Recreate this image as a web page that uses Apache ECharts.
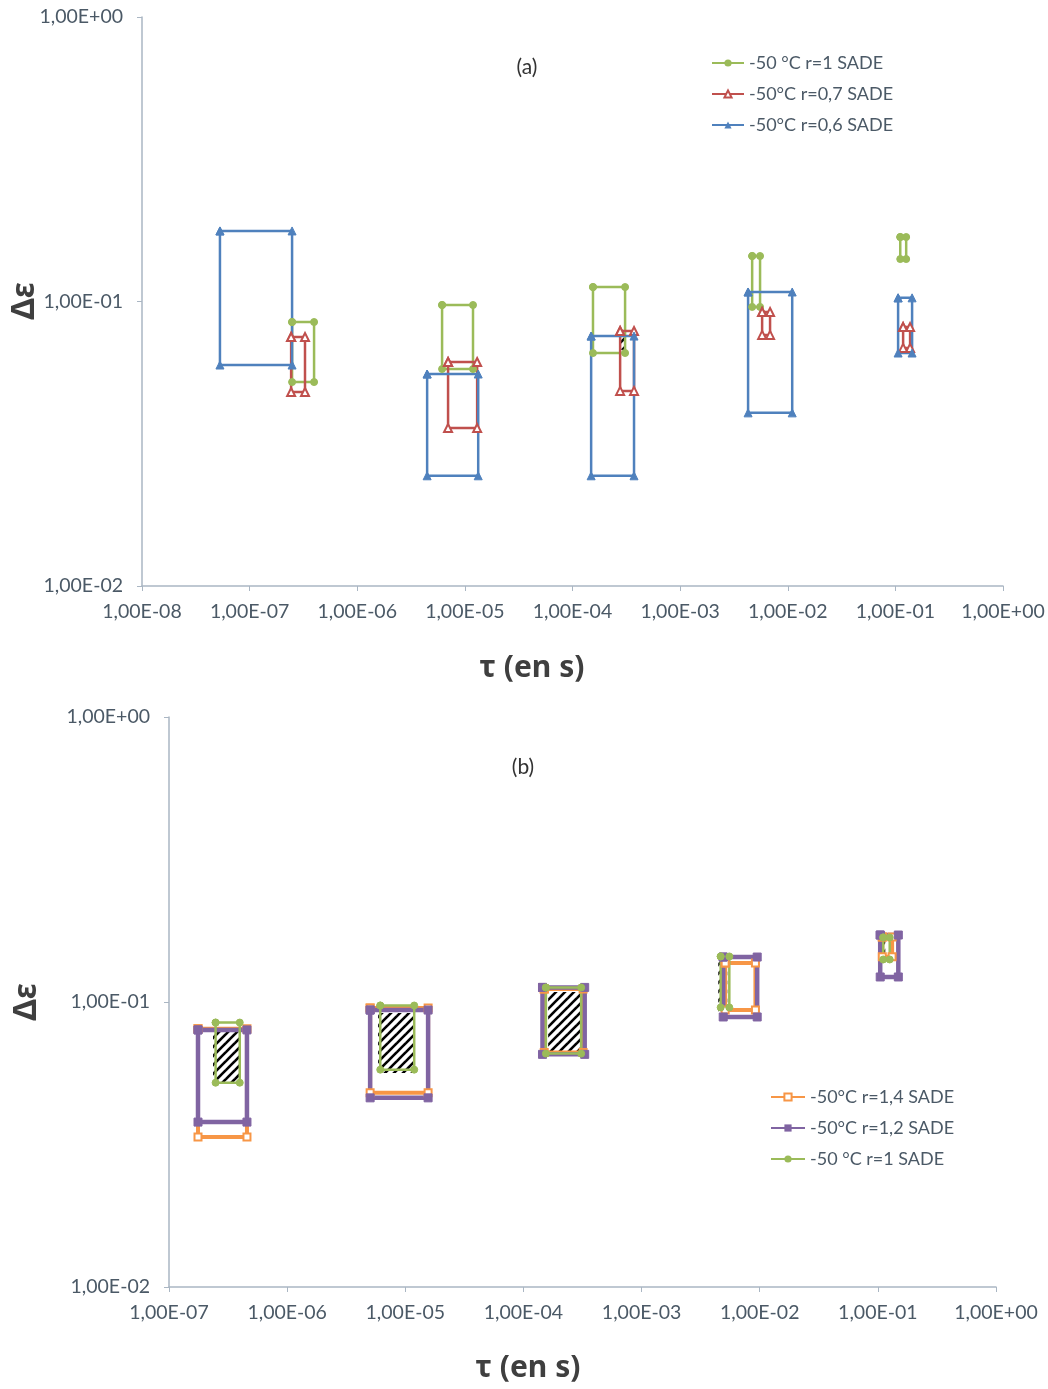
<!DOCTYPE html>
<html>
<head>
<meta charset="utf-8">
<script src="https://cdn.jsdelivr.net/npm/echarts@6/dist/echarts.min.js"></script>
<style>
html,body{margin:0;padding:0;background:#fff;}
#c{width:1048px;height:1389px;}
</style>
</head>
<body>
<div id="c"></div>
<script>
// ---------- DATA (rectangles: [tauMin, tauMax, deltaEpsTop, deltaEpsBottom]) ----------
const nameR1   = '-50 °C r=1 SADE';
const nameR07  = '-50°C r=0,7 SADE';
const nameR06  = '-50°C r=0,6 SADE';
const nameR14  = '-50°C r=1,4 SADE';
const nameR12  = '-50°C r=1,2 SADE';

const rectsR1 = [
  [2.48e-7, 3.97e-7, 0.0847, 0.0521],
  [6.14e-6, 1.19e-5, 0.0972, 0.0579],
  [1.55e-4, 3.08e-4, 0.1124, 0.0659],
  [4.67e-3, 5.53e-3, 0.1445, 0.0957],
  [0.111,   0.126,   0.1685, 0.141]
];
const rectsR07 = [
  [2.43e-7, 3.27e-7, 0.0750, 0.0481],
  [6.98e-6, 1.30e-5, 0.0613, 0.0359],
  [2.77e-4, 3.73e-4, 0.0788, 0.0485],
  [5.78e-3, 6.85e-3, 0.0918, 0.0763],
  [0.118,   0.137,   0.0813, 0.0687]
];
const rectsR06 = [
  [5.3e-8,  2.48e-7, 0.177,  0.0598],
  [4.46e-6, 1.33e-5, 0.0556, 0.0244],
  [1.49e-4, 3.73e-4, 0.0756, 0.0244],
  [4.28e-3, 1.10e-2, 0.108,  0.0406],
  [0.106,   0.143,   0.103,  0.0659]
];
const rectsR14 = [
  [1.76e-7, 4.57e-7, 0.0805, 0.0336],
  [5.04e-6, 1.56e-5, 0.0953, 0.0480],
  [1.50e-4, 3.20e-4, 0.111,  0.0665],
  [5.10e-3, 9.20e-3, 0.137,  0.0937],
  [0.109,   0.132,   0.169,  0.144]
];
const rectsR12 = [
  [1.76e-7, 4.57e-7, 0.0798, 0.0379],
  [5.04e-6, 1.56e-5, 0.0937, 0.0461],
  [1.45e-4, 3.30e-4, 0.1125, 0.0655],
  [4.91e-3, 9.52e-3, 0.1438, 0.0886],
  [0.1047,  0.149,   0.1718, 0.1224]
];
const hatchA = [
  [2.77e-4, 3.08e-4, 0.0775, 0.0676]
];
const hatchB = [
  [2.36e-7, 3.99e-7, 0.0798, 0.0524],
  [5.89e-6, 1.19e-5, 0.0915, 0.0563],
  [1.62e-4, 3.02e-4, 0.1084, 0.0668],
  [4.46e-3, 5.31e-3, 0.146,  0.0915],
  [0.1007,  0.1156,  0.171,  0.137]
];
const xRangeA = [1e-8, 1];
const xRangeB = [1e-7, 1];
const yRange  = [1e-2, 1];
const panelLabels = ['(a)', '(b)'];
const yTitle = 'Δε';
const xTitle = 'τ (en s)';

// ---------- helpers ----------
function sci(v){
  const e = Math.round(Math.log10(v));
  const a = Math.abs(e);
  return '1,00E' + (e < 0 ? '-' : '+') + (a < 10 ? '0' : '') + a;
}
function rectSeries(name, rects, idx, color, symbol, symbolSize, lineWidth){
  return rects.map(r => ({
    type: 'line', name: name, xAxisIndex: idx, yAxisIndex: idx,
    data: [[r[0], r[2]], [r[1], r[2]], [r[1], r[3]], [r[0], r[3]], [r[0], r[2]]],
    symbol: symbol, symbolSize: symbolSize, showSymbol: true,
    lineStyle: {color: color, width: lineWidth},
    itemStyle: {color: color, borderColor: color},
    animation: false, silent: true
  }));
}
const pc = document.createElement('canvas');
pc.width = 9; pc.height = 9;
(function(){
  const g = pc.getContext('2d');
  g.fillStyle = '#fff'; g.fillRect(0,0,9,9);
  g.strokeStyle = '#000'; g.lineWidth = 2.6;
  [[-9,0],[0,0],[9,0]].forEach(o => {
    g.beginPath(); g.moveTo(o[0]-1, 10); g.lineTo(o[0]+10, -1); g.stroke();
  });
})();
function hatchSeries(rects, idx){
  return {
    type: 'custom', xAxisIndex: idx, yAxisIndex: idx, silent: true, animation: false, z: 3,
    data: rects,
    encode: {x: [0,1], y: [2,3]},
    renderItem: function(params, api){
      const p1 = api.coord([api.value(0), api.value(2)]);
      const p2 = api.coord([api.value(1), api.value(3)]);
      return {type: 'rect', shape: {x: p1[0], y: p1[1], width: p2[0]-p1[0], height: p2[1]-p1[1]},
              style: {fill: {image: pc, repeat: 'repeat'}}};
    }
  };
}
const axisColor = '#aab6c3';
const labelColor = '#4b5966';
const font = 'Lato, "Open Sans", sans-serif';
function xAxis(idx, range){
  return {
    type: 'log', logBase: 10, gridIndex: idx, min: range[0], max: range[1], interval: 1,
    axisLine: {show: true, onZero: false, lineStyle: {color: axisColor, width: 1.5}},
    axisTick: {show: true, inside: false, length: 5, lineStyle: {color: axisColor}},
    axisLabel: {color: labelColor, fontSize: 19.5, fontFamily: font, margin: 16, formatter: sci, showMinLabel: true, showMaxLabel: true},
    splitLine: {show: false}, minorTick: {show: false}
  };
}
function yAxis(idx){
  return {
    type: 'log', logBase: 10, gridIndex: idx, min: yRange[0], max: yRange[1], interval: 1,
    axisLine: {show: true, onZero: false, lineStyle: {color: axisColor, width: 1.5}},
    axisTick: {show: true, inside: false, length: 5, lineStyle: {color: axisColor}},
    axisLabel: {color: labelColor, fontSize: 19.5, fontFamily: font, margin: 19, formatter: sci, showMinLabel: true, showMaxLabel: true},
    splitLine: {show: false}, minorTick: {show: false}
  };
}
const green = '#9bbb59', red = '#c0504d', blue = '#4f81bd', orange = '#f79646', purple = '#8064a2';

const series = [].concat(
  rectSeries(nameR1,  rectsR1,  0, green, 'circle', 7, 2.5),
  rectSeries(nameR07, rectsR07, 0, red,   'emptyTriangle', 8, 2.5),
  rectSeries(nameR06, rectsR06, 0, blue,  'triangle', 8, 2.5),
  [hatchSeries(hatchA, 0)],
  rectSeries(nameR14, rectsR14, 1, orange, 'emptyRect', 7, 4),
  rectSeries(nameR12, rectsR12, 1, purple, 'rect', 8, 4.5),
  rectSeries(nameR1,  rectsR1,  1, green, 'circle', 7, 2.5),
  [hatchSeries(hatchB, 1)]
);

const titleStyle = {font: 'bold 32px "Noto Sans", "Open Sans", sans-serif', fill: '#3f3f3f', textAlign: 'center', textVerticalAlign: 'middle'};
const option = {
  backgroundColor: '#fff',
  animation: false,
  grid: [
    {left: 142, top: 17, width: 861, height: 569},
    {left: 169, top: 717, width: 827, height: 570}
  ],
  xAxis: [xAxis(0, xRangeA), xAxis(1, xRangeB)],
  yAxis: [yAxis(0), yAxis(1)],
  legend: [
    {data: [nameR1, nameR07, nameR06], orient: 'vertical', left: 706, top: 49, itemWidth: 32, itemHeight: 9, itemGap: 13,
     textStyle: {color: labelColor, fontSize: 18, fontFamily: font}, selectedMode: false},
    {data: [nameR14, nameR12, nameR1], orient: 'vertical', left: 765, top: 1083, itemWidth: 34, itemHeight: 9, itemGap: 13,
     textStyle: {color: labelColor, fontSize: 18, fontFamily: font}, selectedMode: false}
  ],
  graphic: [
    {type: 'text', x: 527, y: 67, style: {text: panelLabels[0], font: '21px Lato, sans-serif', fill: '#333', textAlign: 'center', textVerticalAlign: 'middle'}},
    {type: 'text', x: 523, y: 767, style: {text: panelLabels[1], font: '21px Lato, sans-serif', fill: '#333', textAlign: 'center', textVerticalAlign: 'middle'}},
    {type: 'text', x: 25, y: 301, rotation: Math.PI/2, style: Object.assign({text: yTitle}, titleStyle)},
    {type: 'text', x: 27, y: 1002, rotation: Math.PI/2, style: Object.assign({text: yTitle}, titleStyle)},
    {type: 'text', x: 532, y: 668, style: Object.assign({text: xTitle}, titleStyle, {font: 'bold 30px "Noto Sans", "Open Sans", sans-serif'})},
    {type: 'text', x: 528, y: 1368, style: Object.assign({text: xTitle}, titleStyle, {font: 'bold 30px "Noto Sans", "Open Sans", sans-serif'})}
  ],
  series: series
};
const chart = echarts.init(document.getElementById('c'), null, {renderer: 'canvas'});
chart.setOption(option);
</script>
</body>
</html>
